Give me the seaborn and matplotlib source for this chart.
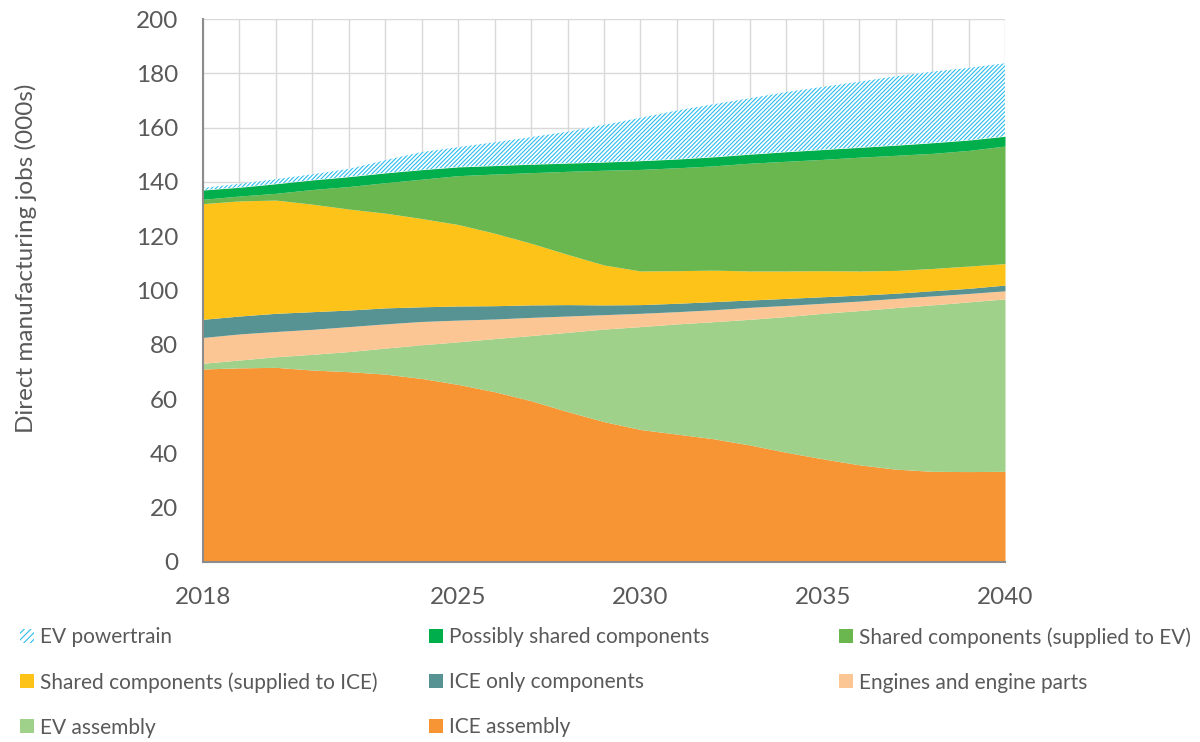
import matplotlib
matplotlib.use('Agg')
import matplotlib.pyplot as plt
from matplotlib.patches import Patch
import seaborn as sns

# 数据：各年份直接制造业就业（千人）
years = list(range(2018, 2041))
ice_assembly = [71.1, 71.5, 71.7, 70.7, 70.1, 69.2, 67.6, 65.4, 62.7, 59.4, 55.4, 51.7,
                48.8, 47.1, 45.4, 43.1, 40.4, 38.0, 35.8, 34.2, 33.4, 33.3, 33.4]
ev_assembly = [2.1, 2.9, 3.9, 5.8, 7.4, 9.6, 12.4, 15.7, 19.6, 24.0, 29.2, 34.1,
               37.9, 40.6, 43.1, 46.3, 50.0, 53.6, 56.8, 59.5, 61.3, 62.5, 63.5]
engines = [9.5, 9.6, 9.3, 9.2, 9.2, 8.9, 8.6, 8.0, 7.2, 6.7, 6.0, 5.3,
           4.9, 4.5, 4.4, 4.4, 4.1, 3.7, 3.5, 3.4, 3.3, 3.1, 3.0]
ice_only = [6.7, 6.6, 6.7, 6.5, 6.1, 5.9, 5.4, 5.2, 4.9, 4.6, 4.2, 3.6,
            3.2, 3.1, 3.0, 2.7, 2.6, 2.4, 2.2, 1.9, 1.9, 1.9, 2.1]
shared_ice = [42.6, 42.4, 41.7, 39.6, 37.2, 34.9, 32.5, 30.0, 26.7, 22.7, 18.5, 14.7,
              12.4, 12.0, 11.6, 10.7, 10.1, 9.6, 8.9, 8.4, 8.2, 8.2, 7.9]
shared_ev = [1.6, 1.8, 2.5, 5.4, 8.3, 11.2, 14.5, 18.0, 21.8, 26.0, 30.6, 34.9,
             37.4, 37.9, 38.4, 39.7, 40.4, 41.0, 41.9, 42.4, 42.4, 42.6, 43.3]
possibly_shared = [3.4, 3.2, 3.5, 3.5, 3.6, 3.6, 3.5, 3.2, 3.1, 3.1, 3.0, 3.0,
                   3.2, 3.2, 3.3, 3.3, 3.5, 3.6, 3.6, 3.7, 3.9, 3.8, 3.6]
ev_powertrain = [0.8, 1.3, 1.7, 2.1, 2.9, 4.7, 6.5, 7.3, 8.6, 10.0, 11.6, 13.7,
                 15.8, 17.9, 19.4, 20.6, 22.0, 23.1, 24.2, 25.4, 26.2, 26.6, 26.9]

labels = ['ICE assembly', 'EV assembly', 'Engines and engine parts', 'ICE only components',
          'Shared components (supplied to ICE)', 'Shared components (supplied to EV)',
          'Possibly shared components', 'EV powertrain']
colors = ['#F79433', '#A0D18A', '#FCC694', '#579393', '#FDC319', '#6BB74F', '#00AF4C', 'white']
hatch_color = '#2CBCEE'
hatch = '////////'
tick_years = [2018, 2025, 2030, 2035, 2040]

sns.set_theme(style='whitegrid')
plt.rcParams['font.family'] = ['Lato', 'DejaVu Sans']
plt.rcParams['hatch.linewidth'] = 0.8
text_color = '#595959'
axis_color = '#8C8C8C'

fig = plt.figure(figsize=(12, 7.42), dpi=100)
ax = fig.add_axes([203 / 1200, 1 - 562 / 742, 802 / 1200, 543 / 742])

polys = ax.stackplot(years, ice_assembly, ev_assembly, engines, ice_only, shared_ice,
                     shared_ev, possibly_shared, ev_powertrain,
                     colors=colors, labels=labels, linewidth=0)
polys[-1].set_hatch(hatch)
polys[-1].set_edgecolor(hatch_color)
polys[-1].set_linewidth(0)

ax.set_xlim(2018, 2040)
ax.set_ylim(0, 200)
ax.set_xticks(years)
ax.set_xticklabels([str(y) if y in tick_years else '' for y in years])
ax.set_yticks(range(0, 201, 20))
ax.grid(True, color='#D9D9D9', linewidth=1)
ax.set_axisbelow(True)
for s in ['top', 'right']:
    ax.spines[s].set_visible(False)
for s in ['left', 'bottom']:
    ax.spines[s].set_color(axis_color)
    ax.spines[s].set_linewidth(1.5)
ax.tick_params(axis='both', which='both', direction='out', length=6, width=1.5,
               color=axis_color, labelcolor=text_color, labelsize=17.5)
ax.tick_params(axis='y', pad=12)
ax.tick_params(axis='x', pad=12)
ax.set_ylabel('Direct manufacturing jobs (000s)', fontsize=17.5, color=text_color)
ax.yaxis.set_label_coords(-(203 - 37) / 802, (562 - 258) / 543)

# 图例：三列，按行顺序排列
def make_handle(i):
    if i == 7:
        return Patch(facecolor='white', edgecolor=hatch_color, hatch='/////', linewidth=0)
    return Patch(facecolor=colors[i], linewidth=0)

columns = [[7, 4, 1], [6, 3, 0], [5, 2]]
col_x = [20 / 1200, 429 / 1200, 839 / 1200]
for cx, col in zip(col_x, columns):
    fig.legend(handles=[make_handle(i) for i in col], labels=[labels[i] for i in col],
               loc='upper left', bbox_to_anchor=(cx, 1 - 627 / 742), frameon=False,
               fontsize=15, labelcolor=text_color, handlelength=0.65, handleheight=0.65,
               handletextpad=0.3, labelspacing=1.2, borderpad=0, borderaxespad=0)

fig.savefig('out.png', dpi=100)
